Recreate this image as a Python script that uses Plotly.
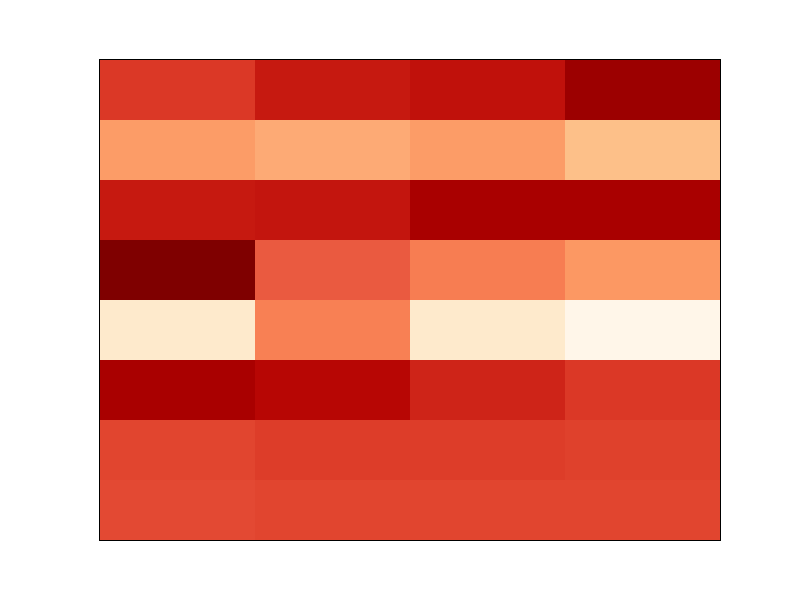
import plotly.graph_objects as go

columns = ["c1", "c2", "c3", "c4"]
rows = ["r1", "r2", "r3", "r4", "r5", "r6", "r7", "r8"]
values = [
    [0.73, 0.81, 0.83, 0.93],
    [0.46, 0.42, 0.46, 0.35],
    [0.81, 0.82, 0.90, 0.90],
    [1.00, 0.65, 0.55, 0.47],
    [0.11, 0.54, 0.11, 0.01],
    [0.90, 0.86, 0.78, 0.73],
    [0.70, 0.72, 0.72, 0.71],
    [0.69, 0.70, 0.70, 0.70],
]

fig = go.Figure(go.Heatmap(
    z=values, x=columns, y=rows,
    colorscale="OrRd", zmin=0, zmax=1, showscale=False,
    xgap=0, ygap=0,
))
axis_style = dict(showline=True, mirror=True, linecolor="black", linewidth=1,
                  showticklabels=False, ticks="", showgrid=False, zeroline=False)
fig.update_xaxes(**axis_style)
fig.update_yaxes(autorange="reversed", **axis_style)
fig.update_layout(
    width=800, height=600,
    margin=dict(l=100, r=80, t=60, b=60),
    paper_bgcolor="white", plot_bgcolor="white",
)
fig.write_html("out.html")
